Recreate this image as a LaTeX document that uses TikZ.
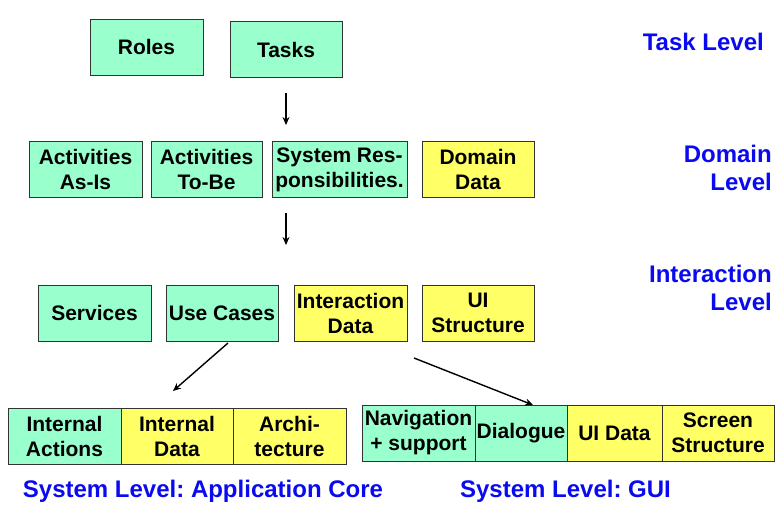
\documentclass[tikz,border=0pt]{standalone}
\usepackage{fontspec}
\setmainfont{Liberation Sans}
\usepackage{xcolor}
\usepackage{tikz}
\usetikzlibrary{arrows.meta}
\definecolor{boxgreen}{RGB}{153,255,204}
\definecolor{boxyellow}{RGB}{255,255,102}
\definecolor{lvlblue}{RGB}{10,10,240}
\frenchspacing

\begin{document}
\begin{tikzpicture}[x=1pt, y=-1pt,
		box/.style={draw=black!80, line width=0.9pt, align=center, inner sep=0pt, minimum height=56pt, font=\fontsize{21}{25}\selectfont\bfseries},
		gbox/.style={box, fill=boxgreen},
		ybox/.style={box, fill=boxyellow},
		lvl/.style={text=lvlblue, inner sep=0pt, font=\fontsize{24}{28.5}\selectfont\bfseries},
		flow/.style={-{Stealth[length=8pt, width=7pt]}, line width=1.4pt}]
			\useasboundingbox (0,0) rectangle (778,517);
			% Task level
			\node[gbox, minimum width=113pt] (roles) at (146.5,47) {Roles};
			\node[gbox, minimum width=112pt] (tasks) at (286,49.5) {Tasks};
			% Domain level
			\node[gbox, minimum width=113pt] (asis) at (85.5,169.5) {Activities\\As-Is};
			\node[gbox, minimum width=111pt] (tobe) at (206.5,169.5) {Activities\\To-Be};
			\node[gbox, minimum width=135pt] (sysresp) at (339.5,169.5) {System Res-\\ponsibilities.};
			\node[ybox, minimum width=112pt] (domdata) at (478,169.5) {Domain\\Data};
			% Interaction level
			\node[gbox, minimum width=113pt] (services) at (94.5,313) {Services};
			\node[gbox, minimum width=112pt] (usecases) at (222,313) {Use Cases};
			\node[ybox, minimum width=113pt] (iadata) at (350.5,313) {Interaction\\Data};
			\node[ybox, minimum width=112pt] (uistruct) at (478,313) {UI\\Structure};
			% System level: application core
			\node[gbox, minimum width=113pt] (intact) at (64.5,436) {Internal\\Actions};
			\node[ybox, minimum width=112pt] (intdata) at (177,436) {Internal\\Data};
			\node[ybox, minimum width=113pt] (archi) at (289.5,436) {Archi-\\tecture};
			% System level: GUI
			\node[gbox, minimum width=113pt] (navsup) at (418.5,433) {Navigation\\+ support};
			\node[gbox, minimum width=92pt] (dialogue) at (521,433) {Dialogue};
			\node[ybox, minimum width=95pt] (uidata) at (614.5,433) {UI Data};
			\node[ybox, minimum width=112pt] (screen) at (718,433) {Screen\\Structure};
			
			% Level labels
			\node[lvl, anchor=east] (tasklvl) at (764,42) {Task Level};
			\node[lvl, anchor=east, align=right] (domlvl) at (772,168) {Domain\\Level};
			\node[lvl, anchor=east, align=right] (ialvl) at (772,288) {Interaction\\Level};
			\node[lvl] (corelvl) at (203,491) {System Level: Application Core};
			\node[lvl] (guilvl) at (565.5,491) {System Level: GUI};
			
			% Arrows
			\coordinate (a1) at (286,93);
			\coordinate (b1) at (286,125);
			\coordinate (a2) at (286,213);
			\coordinate (b2) at (286,245);
			\coordinate (a3) at (228,343);
			\coordinate (b3) at (173,391);
			\coordinate (a4) at (414,358);
			\coordinate (b4) at (533,405);
			\draw[flow] (a1) -- (b1);
			\draw[flow] (a2) -- (b2);
			\draw[flow] (a3) -- (b3);
			\draw[flow] (a4) -- (b4);
			
		\end{tikzpicture}
\end{document}
